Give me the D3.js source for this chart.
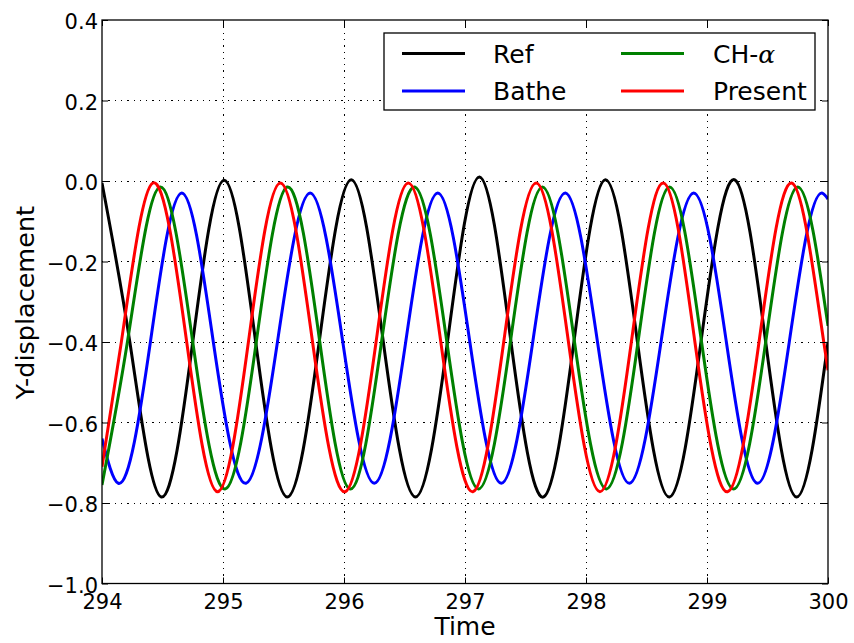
<!DOCTYPE html>
<html>
<head>
<meta charset="utf-8">
<script src="https://cdn.jsdelivr.net/npm/d3@7"></script>
<style>
  html, body { margin: 0; padding: 0; background: #fff; }
  svg { display: block; font-family: "DejaVu Sans", sans-serif; }
</style>
</head>
<body>
<svg id="chart" width="854" height="643"></svg>
<script>
// Y-displacement vs time, tail of the run (t = 294 .. 300).
// Each series is given by its turning points and its crossings of y = -0.4.

const refT = [294.00, 294.23, 294.49, 294.75, 295.01, 295.27, 295.53, 295.795, 296.06, 296.325, 296.59, 296.855, 297.12, 297.38, 297.65, 297.90, 298.16, 298.425, 298.69, 298.95, 299.23, 299.485, 299.74, 300.00];
const refY = [-0.005, -0.40, -0.785, -0.40, 0.002, -0.40, -0.785, -0.40, 0.003, -0.40, -0.785, -0.40, 0.010, -0.40, -0.785, -0.40, 0.003, -0.40, -0.785, -0.40, 0.003, -0.40, -0.785, -0.40];

const batheT = [294.00, 294.135, 294.40, 294.66, 294.92, 295.19, 295.45, 295.72, 295.99, 296.25, 296.51, 296.775, 297.04, 297.30, 297.56, 297.83, 298.095, 298.36, 298.62, 298.89, 299.16, 299.415, 299.68, 299.95, 300.00];
const batheY = [-0.64, -0.751, -0.40, -0.030, -0.40, -0.751, -0.40, -0.030, -0.40, -0.751, -0.40, -0.030, -0.40, -0.751, -0.40, -0.030, -0.40, -0.751, -0.40, -0.030, -0.40, -0.751, -0.40, -0.030, -0.045];

const chT = [294.00, 294.21, 294.48, 294.75, 295.02, 295.275, 295.53, 295.80, 296.05, 296.31, 296.585, 296.85, 297.11, 297.375, 297.64, 297.905, 298.17, 298.43, 298.69, 298.955, 299.22, 299.485, 299.75, 300.00];
const chY = [-0.755, -0.40, -0.015, -0.40, -0.765, -0.40, -0.015, -0.40, -0.765, -0.40, -0.015, -0.40, -0.765, -0.40, -0.015, -0.40, -0.765, -0.40, -0.015, -0.40, -0.765, -0.40, -0.015, -0.36];

const presentT = [294.00, 294.16, 294.42, 294.70, 294.955, 295.21, 295.475, 295.74, 296.01, 296.265, 296.53, 296.80, 297.065, 297.32, 297.59, 297.855, 298.115, 298.375, 298.64, 298.90, 299.17, 299.43, 299.70, 299.965, 300.00];
const presentY = [-0.71, -0.40, -0.005, -0.40, -0.772, -0.40, -0.005, -0.40, -0.772, -0.40, -0.005, -0.40, -0.772, -0.40, -0.005, -0.40, -0.772, -0.40, -0.005, -0.40, -0.772, -0.40, -0.005, -0.40, -0.47];

const seriesNames  = ["Ref", "Bathe", "CH-α", "Present"];
const seriesColors = ["#000000", "#0000ff", "#008000", "#ff0000"];

const xTicks = [294, 295, 296, 297, 298, 299, 300];
const yTicks = [0.4, 0.2, 0.0, -0.2, -0.4, -0.6, -0.8, -1.0];

const series = [
  { name: seriesNames[0], color: seriesColors[0], t: refT,     y: refY },
  { name: seriesNames[1], color: seriesColors[1], t: batheT,   y: batheY },
  { name: seriesNames[2], color: seriesColors[2], t: chT,      y: chY },
  { name: seriesNames[3], color: seriesColors[3], t: presentT, y: presentY }
];

// Curve factory: natural cubic spline of y over x (knots may be unevenly spaced),
// emitted as cubic Bezier segments.
function curveSplineX(context) {
  return {
    areaStart() {}, areaEnd() {},
    lineStart() { this._x = []; this._y = []; },
    point(px, py) { this._x.push(+px); this._y.push(+py); },
    lineEnd() {
      const X = this._x, Y = this._y, n = X.length;
      if (!n) return;
      context.moveTo(X[0], Y[0]);
      if (n < 3) { for (let i = 1; i < n; i++) context.lineTo(X[i], Y[i]); return; }
      const h = [], d = [];
      for (let i = 0; i < n - 1; i++) { h[i] = X[i + 1] - X[i]; d[i] = (Y[i + 1] - Y[i]) / h[i]; }
      // tridiagonal system for second derivatives, natural ends
      const a = new Array(n).fill(0), b = new Array(n).fill(1), c = new Array(n).fill(0), r = new Array(n).fill(0);
      for (let i = 1; i < n - 1; i++) {
        a[i] = h[i - 1]; b[i] = 2 * (h[i - 1] + h[i]); c[i] = h[i];
        r[i] = 6 * (d[i] - d[i - 1]);
      }
      for (let i = 1; i < n; i++) {
        const w = a[i] / b[i - 1];
        b[i] -= w * c[i - 1]; r[i] -= w * r[i - 1];
      }
      const M = new Array(n);
      M[n - 1] = r[n - 1] / b[n - 1];
      for (let i = n - 2; i >= 0; i--) M[i] = (r[i] - c[i] * M[i + 1]) / b[i];
      for (let i = 0; i < n - 1; i++) {
        const m0 = d[i] - h[i] * (2 * M[i] + M[i + 1]) / 6;
        const m1 = d[i] + h[i] * (M[i] + 2 * M[i + 1]) / 6;
        context.bezierCurveTo(
          X[i] + h[i] / 3, Y[i] + m0 * h[i] / 3,
          X[i + 1] - h[i] / 3, Y[i + 1] - m1 * h[i] / 3,
          X[i + 1], Y[i + 1]);
      }
    }
  };
}

const svg = d3.select("#chart");
const box = { left: 102, right: 828, top: 20, bottom: 583.5 };

const x = d3.scaleLinear().domain([294, 300]).range([box.left, box.right]);
const y = d3.scaleLinear().domain([-1.0, 0.4]).range([box.bottom, box.top]);

const fmtY = v => (v < 0 ? "\u2212" : "") + Math.abs(v).toFixed(1);

// dotted grid
const grid = svg.append("g");
grid.selectAll("line.gx").data(xTicks.slice(1, -1)).join("line")
  .attr("x1", d => x(d)).attr("x2", d => x(d))
  .attr("y1", box.top).attr("y2", box.bottom);
grid.selectAll("line.gy").data(yTicks.slice(1, -1)).join("line")
  .attr("x1", box.left).attr("x2", box.right)
  .attr("y1", d => y(d)).attr("y2", d => y(d));
grid.selectAll("line")
  .attr("stroke", "#000").attr("stroke-width", 1)
  .attr("stroke-dasharray", "1.3,5").attr("shape-rendering", "crispEdges");

// curves
svg.append("clipPath").attr("id", "plotclip").append("rect")
  .attr("x", box.left).attr("y", box.top)
  .attr("width", box.right - box.left).attr("height", box.bottom - box.top);

const line = d3.line()
  .x(d => x(d[0])).y(d => y(d[1]))
  .curve(curveSplineX);

svg.append("g").attr("clip-path", "url(#plotclip)")
  .selectAll("path").data(series).join("path")
  .attr("d", s => line(s.t.map((t, i) => [t, s.y[i]])))
  .attr("fill", "none")
  .attr("stroke", s => s.color)
  .attr("stroke-width", 3)
  .attr("stroke-linejoin", "round");

// axes: ticks point inward on all four sides
const tickLen = 6;
const axB = svg.append("g").attr("transform", `translate(0,${box.bottom})`)
  .call(d3.axisBottom(x).tickValues(xTicks).tickSizeInner(-tickLen).tickSizeOuter(0).tickFormat(d3.format("d")));
const axT = svg.append("g").attr("transform", `translate(0,${box.top})`)
  .call(d3.axisTop(x).tickValues(xTicks).tickSizeInner(-tickLen).tickSizeOuter(0).tickFormat(""));
const axL = svg.append("g").attr("transform", `translate(${box.left},0)`)
  .call(d3.axisLeft(y).tickValues(yTicks).tickSizeInner(-tickLen).tickSizeOuter(0).tickPadding(4).tickFormat(fmtY));
const axR = svg.append("g").attr("transform", `translate(${box.right},0)`)
  .call(d3.axisRight(y).tickValues(yTicks).tickSizeInner(-tickLen).tickSizeOuter(0).tickFormat(""));

[axB, axT, axL, axR].forEach(a => {
  a.select(".domain").remove();
  a.selectAll(".tick line").attr("stroke", "#000").attr("stroke-width", 1);
  a.selectAll("text").attr("fill", "#000")
    .style("font-family", "'DejaVu Sans', sans-serif").style("font-size", "21px");
});
axB.selectAll(".tick text").attr("dy", null).attr("y", 25.5);
axL.selectAll(".tick text").attr("dy", "0.41em");

// frame
svg.append("rect")
  .attr("x", box.left).attr("y", box.top)
  .attr("width", box.right - box.left).attr("height", box.bottom - box.top)
  .attr("fill", "none").attr("stroke", "#000").attr("stroke-width", 1.3);

// axis titles
svg.append("text")
  .attr("x", (box.left + box.right) / 2).attr("y", 635)
  .attr("text-anchor", "middle").style("font-size", "25px").text("Time");
svg.append("text")
  .attr("transform", `translate(34,${(box.top + box.bottom) / 2 + 1}) rotate(-90)`)
  .attr("text-anchor", "middle").style("font-size", "25.5px").text("Y-displacement");

// legend, two columns
const leg = svg.append("g");
leg.append("rect")
  .attr("x", 384).attr("y", 33).attr("width", 431).attr("height", 77)
  .attr("fill", "#fff").attr("stroke", "#000").attr("stroke-width", 1.3);

const legPos = [
  { lx: 402, ly: 53.5, tx: 493 },
  { lx: 402, ly: 91,   tx: 493 },
  { lx: 621, ly: 53.5, tx: 713 },
  { lx: 621, ly: 91,   tx: 713 }
];
const items = leg.selectAll("g.item").data(series).join("g").attr("class", "item");
items.append("line")
  .attr("x1", (d, i) => legPos[i].lx).attr("x2", (d, i) => legPos[i].lx + 63)
  .attr("y1", (d, i) => legPos[i].ly).attr("y2", (d, i) => legPos[i].ly)
  .attr("stroke", d => d.color).attr("stroke-width", 3);
const labels = items.append("text")
  .attr("x", (d, i) => legPos[i].tx).attr("y", (d, i) => legPos[i].ly + 9)
  .style("font-size", "25px");
labels.each(function(d) {
  const t = d3.select(this);
  if (d.name.endsWith("α")) {
    t.append("tspan").text(d.name.slice(0, -1));
    t.append("tspan").style("font-family", "'DejaVu Serif', serif").style("font-style", "italic").text("α");
  } else {
    t.text(d.name);
  }
});
</script>
</body>
</html>
